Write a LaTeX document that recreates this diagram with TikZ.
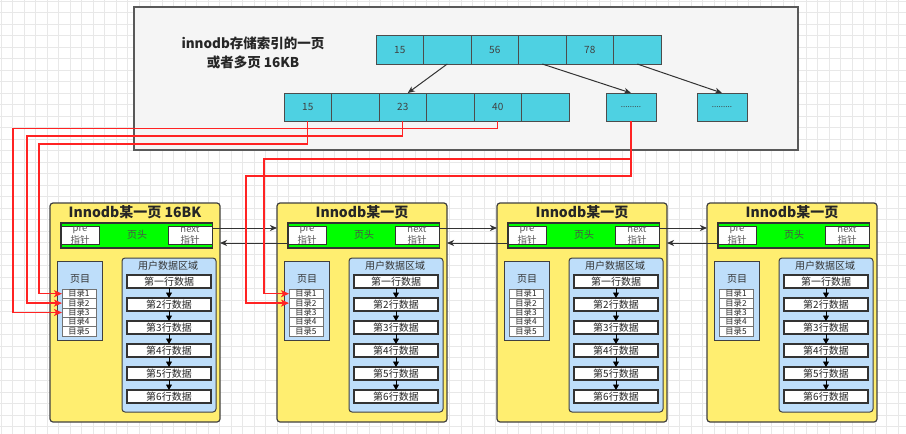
\documentclass[tikz,border=0pt]{standalone}
\usepackage{fontspec}
\setmainfont{Noto Sans CJK SC}
\usetikzlibrary{arrows.meta,calc}
\definecolor{cyanc}{RGB}{78,209,226}
\definecolor{boxgray}{RGB}{245,245,245}
\definecolor{pageyel}{RGB}{255,238,112}
\definecolor{hdrgreen}{RGB}{0,255,0}
\definecolor{lblue}{RGB}{190,222,250}
\definecolor{redc}{RGB}{255,35,35}
\definecolor{gridc}{RGB}{232,232,232}
\begin{document}
\begin{tikzpicture}[x=1pt,y=-1pt,
  nw/.style={anchor=north west,inner sep=0pt,outer sep=0pt},
  cell/.style={nw,draw=black!70,line width=1pt,fill=cyanc,minimum width=47.5pt,text=black!75,font=\fontsize{10}{12}\selectfont},
  page/.style={nw,draw=black!75,line width=1.2pt,fill=pageyel,rounded corners=3pt,minimum width=170pt,minimum height=219pt},
  ptitle/.style={inner sep=0pt,font=\fontsize{14}{16}\selectfont\bfseries,text=black!85},
  hdr/.style={nw,draw=black!80,line width=1.5pt,fill=hdrgreen,minimum width=151.7pt,minimum height=25pt},
  ptr/.style={nw,draw=black!80,line width=1pt,fill=white,minimum height=18pt},
  small/.style={inner sep=0pt,font=\fontsize{9.5}{11}\selectfont,text=black!65},
  lbl/.style={inner sep=0pt,font=\fontsize{10}{12}\selectfont,text=black!80},
  lbox/.style={nw,draw=black!75,line width=1pt,fill=lblue,minimum width=45pt,minimum height=79pt},
  ubox/.style={nw,draw=black!75,line width=1pt,fill=lblue,rounded corners=3pt,minimum width=94pt,minimum height=154pt},
  dirrow/.style={nw,draw=black!55,line width=0.6pt,fill=white,minimum width=34pt,minimum height=9.4pt},
  dirtxt/.style={inner sep=0pt,font=\fontsize{8.3}{9}\selectfont,text=black!85},
  rowbox/.style={nw,draw=black!80,line width=1.3pt,fill=white,minimum width=84pt,minimum height=13pt,font=\fontsize{10}{12}\selectfont,text=black!85},
  rowarr/.style={black,line width=0.8pt,-{Triangle[length=5.5pt,width=6pt]}},
  link/.style={black!80,line width=1pt,-{Stealth[length=7pt,width=6pt,inset=2pt]}},
  redarr/.style={redc,line width=1.3pt,-{Stealth[length=8pt,width=7pt,inset=2pt]}}
]
\useasboundingbox (0,0) rectangle (906,434);
\fill[white] (0,0) rectangle (906,434);
\foreach \g in {1,12.5,...,906} \draw[gridc,line width=0.6pt] (\g,0) -- (\g,434);
\foreach \g in {1,12.5,...,434} \draw[gridc,line width=0.6pt] (0,\g) -- (906,\g);

% top index box
\node[nw,draw=black!65,line width=1.5pt,fill=boxgray,minimum width=664pt,minimum height=143pt] (top) at (134,7) {};
\node[inner sep=0pt,align=center,font=\fontsize{13.5}{19}\selectfont\bfseries,text=black!85] (ttl) at (253,52.5) {innodb存储索引的一页\\或者多页 16KB};
\foreach \i/\t in {1/15,2/,3/56,4/,5/78,6/}
  \node[cell,minimum height=29pt] (t\i) at ({376+(\i-1)*47.5},35) {\t};
\foreach \i/\t in {1/15,2/,3/23,4/,5/40,6/}
  \node[cell,minimum height=28pt] (b\i) at ({284+(\i-1)*47.5},93) {\t};
\node[cell,minimum width=50pt,minimum height=28pt,font=\fontsize{8}{9}\selectfont] (d1) at (606,93) {.........};
\node[cell,minimum width=50pt,minimum height=28pt,font=\fontsize{8}{9}\selectfont] (d2) at (697,93) {.........};
\draw[link] (t2.south) -- ([xshift=5pt]b3.north);
\draw[link] (t4.south) -- (d1.north);
\draw[link] (t6.south) -- (d2.north);

% pages
\foreach \p/\L/\ttl in {1/50/{Innodb某一页 16BK},2/277/{Innodb某一页},3/497/{Innodb某一页},4/707/{Innodb某一页}} {
  \node[page] (p\p) at (\L,203) {};
  \node[ptitle] (p\p-t) at ({\L+85},212) {\ttl};
  \node[hdr] (p\p-h) at ({\L+11},223) {};
  \node[ptr,minimum width=38pt] (p\p-pre) at ({\L+11},226) {};
  \node[small] (p\p-pre1) at ({\L+30},229.5) {pre};
  \node[small] (p\p-pre2) at ({\L+30},240) {指针};
  \node[ptr,minimum width=44pt] (p\p-next) at ({\L+118},226) {};
  \node[small] (p\p-next1) at ({\L+140},229.5) {next};
  \node[small] (p\p-next2) at ({\L+140},240) {指针};
  \node[lbl,text=black!70] (p\p-hd) at ({\L+87},235) {页头};
  \node[lbox] (p\p-db) at ({\L+7},261) {};
  \node[lbl] (p\p-dt) at ({\L+30},279) {页目};
  \foreach \r in {1,...,5} {
    \node[dirrow] (p\p-d\r) at ({\L+12},{289+(\r-1)*9.4}) {};
    \node[dirtxt] (p\p-dl\r) at ({\L+29},{293.7+(\r-1)*9.4}) {目录\r};
  }
  \node[ubox] (p\p-u) at ({\L+72},258) {};
  \node[lbl] (p\p-ut) at ({\L+118},265.5) {用户数据区域};
  \foreach \r/\rt in {1/第一行数据,2/第2行数据,3/第3行数据,4/第4行数据,5/第5行数据,6/第6行数据}
    \node[rowbox] (p\p-r\r) at ({\L+77},{275+(\r-1)*23}) {\rt};
  \foreach \r/\s in {1/2,2/3,3/4,4/5,5/6}
    \draw[rowarr] (p\p-r\r.south) -- (p\p-r\s.north);
}

% page links
\foreach \a/\b in {1/2,2/3,3/4} {
  \coordinate (n\a) at ([yshift=7pt]p\a-next.east);
  \draw[link] (n\a) -- (n\a -| p\b.west);
  \coordinate (q\b) at ([yshift=-8pt]p\b-pre.west);
  \draw[link] (q\b) -- (q\b -| p\a.east);
}

% red pointers
\coordinate (w1) at (39,144);
\coordinate (w2) at (27,136);
\coordinate (w3) at (13,128.5);
\coordinate (w4) at (264,159);
\coordinate (w5) at (246,176);
\draw[redarr] (b1.south) |- (w1) |- (p1-d1.west);
\draw[redarr] (b3.south) |- (w2) |- (p1-d2.west);
\draw[redarr] (b5.south) |- (w3) |- (p1-d3.west);
\draw[redarr] (d1.south) |- (w4) |- (p2-d1.west);
\draw[redarr] (d1.south) |- (w5) |- (p2-d2.west);
\end{tikzpicture}
\end{document}
